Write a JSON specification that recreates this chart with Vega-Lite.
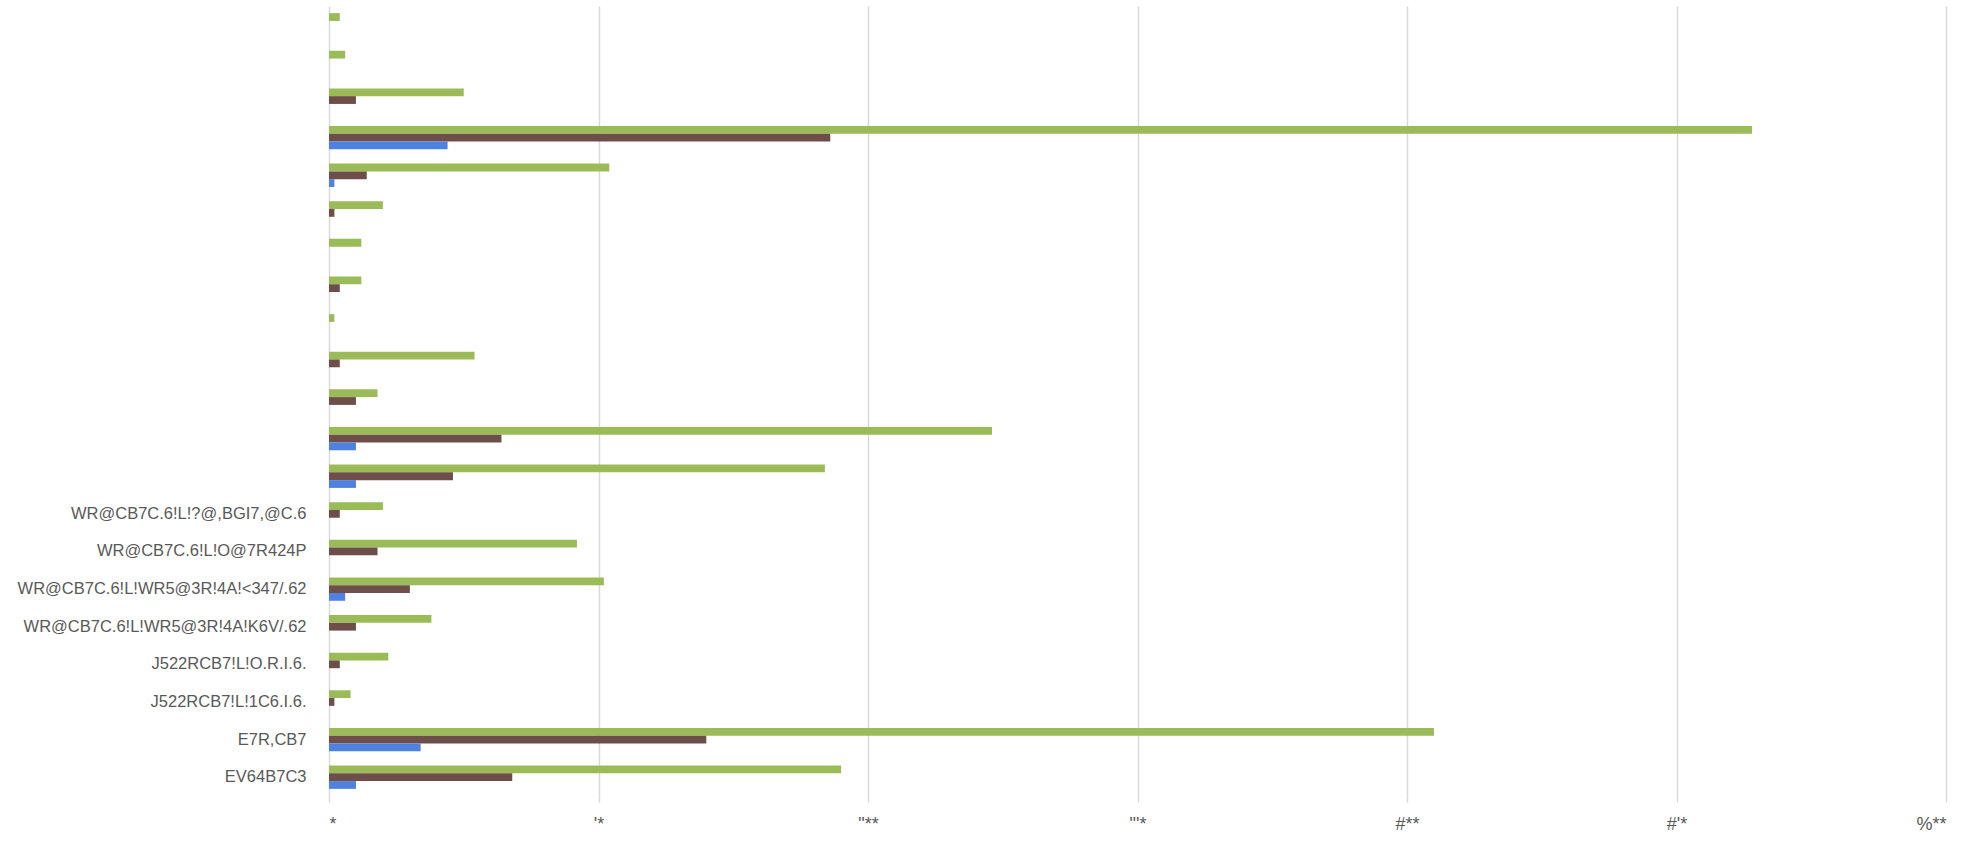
{
  "$schema": "https://vega.github.io/schema/vega-lite/v6.json",
  "width": 1617,
  "height": 790,
  "autosize": {"type": "none"},
  "padding": {"left": 329, "top": 6, "right": 20, "bottom": 47},
  "background": "white",
  "data": {
    "values": [
      {"cat": "_01", "series": "A", "value": 2},
      {"cat": "_02", "series": "A", "value": 3},
      {"cat": "_03", "series": "A", "value": 25},
      {"cat": "_03", "series": "B", "value": 5},
      {"cat": "_04", "series": "A", "value": 264},
      {"cat": "_04", "series": "B", "value": 93},
      {"cat": "_04", "series": "C", "value": 22},
      {"cat": "_05", "series": "A", "value": 52},
      {"cat": "_05", "series": "B", "value": 7},
      {"cat": "_05", "series": "C", "value": 1},
      {"cat": "_06", "series": "A", "value": 10},
      {"cat": "_06", "series": "B", "value": 1},
      {"cat": "_07", "series": "A", "value": 6},
      {"cat": "_08", "series": "A", "value": 6},
      {"cat": "_08", "series": "B", "value": 2},
      {"cat": "_09", "series": "A", "value": 1},
      {"cat": "_10", "series": "A", "value": 27},
      {"cat": "_10", "series": "B", "value": 2},
      {"cat": "_11", "series": "A", "value": 9},
      {"cat": "_11", "series": "B", "value": 5},
      {"cat": "_12", "series": "A", "value": 123},
      {"cat": "_12", "series": "B", "value": 32},
      {"cat": "_12", "series": "C", "value": 5},
      {"cat": "_13", "series": "A", "value": 92},
      {"cat": "_13", "series": "B", "value": 23},
      {"cat": "_13", "series": "C", "value": 5},
      {"cat": "WR@CB7C.6!L!?@,BGI7,@C.6", "series": "A", "value": 10},
      {"cat": "WR@CB7C.6!L!?@,BGI7,@C.6", "series": "B", "value": 2},
      {"cat": "WR@CB7C.6!L!O@7R424P", "series": "A", "value": 46},
      {"cat": "WR@CB7C.6!L!O@7R424P", "series": "B", "value": 9},
      {"cat": "WR@CB7C.6!L!WR5@3R!4A!<347/.62", "series": "A", "value": 51},
      {"cat": "WR@CB7C.6!L!WR5@3R!4A!<347/.62", "series": "B", "value": 15},
      {"cat": "WR@CB7C.6!L!WR5@3R!4A!<347/.62", "series": "C", "value": 3},
      {"cat": "WR@CB7C.6!L!WR5@3R!4A!K6V/.62", "series": "A", "value": 19},
      {"cat": "WR@CB7C.6!L!WR5@3R!4A!K6V/.62", "series": "B", "value": 5},
      {"cat": "J522RCB7!L!O.R.I.6.", "series": "A", "value": 11},
      {"cat": "J522RCB7!L!O.R.I.6.", "series": "B", "value": 2},
      {"cat": "J522RCB7!L!1C6.I.6.", "series": "A", "value": 4},
      {"cat": "J522RCB7!L!1C6.I.6.", "series": "B", "value": 1},
      {"cat": "E7R,CB7", "series": "A", "value": 205},
      {"cat": "E7R,CB7", "series": "B", "value": 70},
      {"cat": "E7R,CB7", "series": "C", "value": 17},
      {"cat": "EV64B7C3", "series": "A", "value": 95},
      {"cat": "EV64B7C3", "series": "B", "value": 34},
      {"cat": "EV64B7C3", "series": "C", "value": 5}
    ]
  },
  "mark": {"type": "bar"},
  "encoding": {
    "y": {
      "field": "cat",
      "type": "nominal",
      "sort": null,
      "scale": {"paddingInner": 0.38, "paddingOuter": 0.19},
      "axis": {
        "title": null,
        "domain": false,
        "ticks": false,
        "labelPadding": 23,
        "labelLimit": 0,
        "labelFont": "Liberation Sans, sans-serif",
        "labelFontSize": 16.5,
        "labelColor": "#595959",
        "labelExpr": "test(/^_/, datum.value) ? '' : datum.value"
      }
    },
    "yOffset": {
      "field": "series",
      "type": "nominal",
      "sort": ["A", "B", "C"],
      "scale": {"paddingInner": 0, "paddingOuter": 0}
    },
    "x": {
      "field": "value",
      "type": "quantitative",
      "scale": {"domain": [0, 300], "nice": false, "zero": true},
      "axis": {
        "title": null,
        "values": [0, 50, 100, 150, 200, 250, 300],
        "domain": false,
        "grid": true,
        "gridColor": "#D9D9D9",
        "gridWidth": 1.5,
        "tickColor": "#D9D9D9",
        "tickSize": 6,
        "tickWidth": 1.5,
        "labelPadding": 13,
        "labelFont": "Liberation Sans, sans-serif",
        "labelFontSize": 18,
        "labelColor": "#595959",
        "labelExpr": "['*', \"'*\", '\"**', '\"\\'*', '#**', \"#'*\", '%**'][round(datum.value / 50)]"
      }
    },
    "color": {
      "field": "series",
      "type": "nominal",
      "scale": {"domain": ["A", "B", "C"], "range": ["#9BBB59", "#6E4E4A", "#4F81E0"]},
      "legend": null
    }
  },
  "config": {"view": {"stroke": null}}
}
